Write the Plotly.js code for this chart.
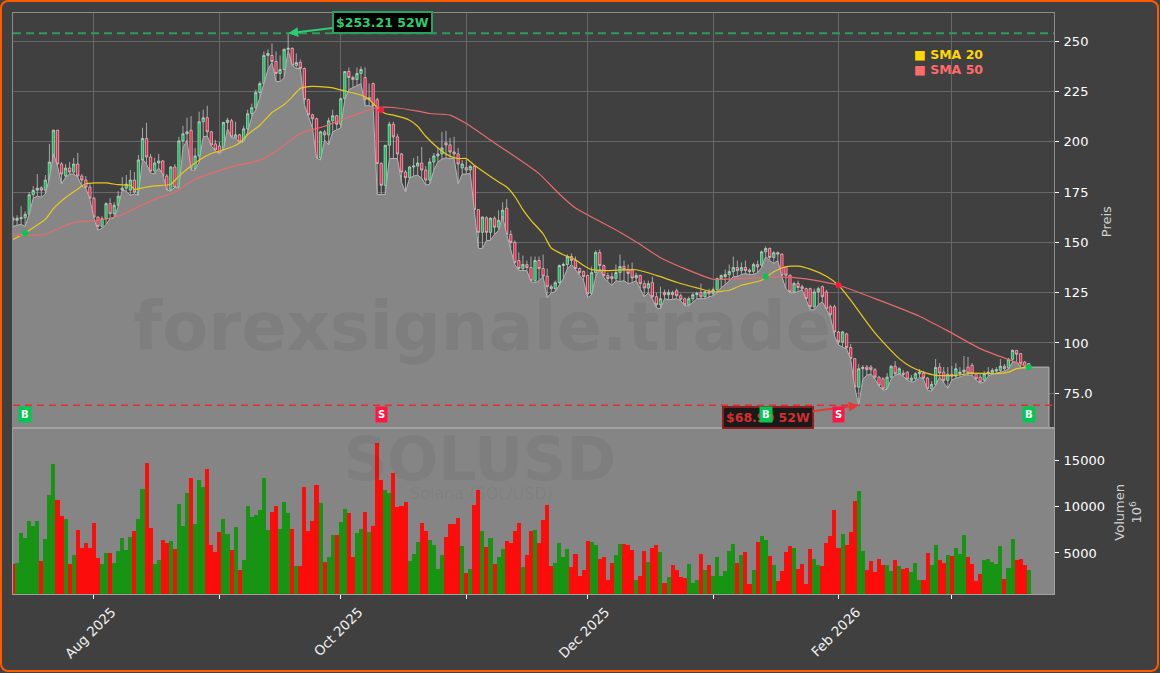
<!DOCTYPE html>
<html>
<head>
<meta charset="utf-8">
<script src="https://cdn.plot.ly/plotly-3.0.1.min.js"></script>
<style>
  html, body { margin: 0; padding: 0; background: #fff; }
  #wrap { position: relative; width: 1160px; height: 673px; overflow: hidden; }
  #frame { position: absolute; left: 0; top: 0; width: 1159px; height: 672px; box-sizing: border-box;
           border: 2.5px solid #ff5a00; border-radius: 8px; pointer-events: none; }
</style>
</head>
<body>
<div id="wrap">
  <div id="chart" style="width:1160px;height:673px"></div>
  <div id="frame"></div>
</div>
<script>
// daily bars, first one is 2025-07-12
var startDay = '2025-07-12';
var barCount = 252;

var opens = [162,161,161.8,162.3,164,173.8,176,177.2,176,181,190,205.8,189,183,187,185,189,183,181,177.5,172,162.6,158,161.8,169.3,164.3,168.5,176,177,176,181,174,191,201.7,192.5,185.5,189.5,190.5,183,176,187.5,177.5,200.5,204,205.8,186.7,193,210,212,205,199,198,194.5,209.6,210.5,202,203.5,200,206.5,214,217,224.5,229,243,243,240,234,236,246,246.5,238,239.5,236.5,221,213.5,211.5,192,205,203.5,210.5,213,208.8,221.5,
  235,232,231,234,232,221,229,221,189.2,178.4,198.3,208.8,202.5,194,185,182.2,187.5,188,189.5,186,181,190,193,194,199.5,198.5,195,194,187,187.2,186,187.8,166.3,155,162.3,155,162,157.6,161,167,154,150,141,137,139,137.5,131,141,137,133.2,128,127,130,138.5,139,143,141,137,135.5,133.5,124.5,135,145,138.5,133.5,133,132,135,138,136.5,136.5,132.3,133.6,129.5,127.3,130,123,119,125,124,125,126,123.5,122,119,122,124,125,123,125.5,124.5,126.5,132,133,134,
  135.5,137.5,136,137.5,136.2,135.6,139,138.7,145.3,147,142.5,144.9,144.2,137.9,133.7,125.4,129.6,128,127,127,118,125.4,128,125.4,118,118,105.5,100.5,104.5,97.7,92.2,78,87.2,88,88,86.7,83,82.2,77.2,83,88.4,84.7,85,85.5,81.4,82.2,84.7,85,82.5,77.2,79.4,88,85.5,81.4,84.4,83.5,84.7,85.5,88,88.9,84.7,83,81.4,84.7,85,86,86.4,88.4,87.5,91.9,96.3,94.7,90.5,88.4];
var highs = [163,163.5,168,165.5,175,178,184,178,183.5,199,206,206,190,189,190,192,194.5,184,183,179,172.5,163,163,170,172,170,175.5,182.5,183.5,186,185,193.5,207,209.5,194,192,194,191,184,188,189,202.5,208,212,212.8,197,215,216,218,205.5,201,200,210,212,211.5,210,204,208,216,219,226,230,245,246,249,245,243,246.5,254,247,244,241,237,221.5,214,212,205.5,206,212,216,213.5,222,235,
  237,233,237,237.5,237,229,229.5,222,190,198.5,210,210,204,194.5,186,188,192,193,197.5,188,192,194.5,197.5,205,205.5,202,202.5,197,191,191,188.5,188,166.5,163,163,162.5,163,166,170,171.5,156,151,145,143.5,141,143,143,143,144,137,129,131,139,140,144,144.5,143,137.5,136,134,138,146,146.5,139,135,135,139,144,141,139,140,135,134,131,131,133,125,128,126.5,126.5,126,127,124.5,122.5,123,125,125.5,129.5,126,127,127.5,132.5,134,136.5,
  139,142.9,141,140,141,137,140,141,146,148,147.5,145.5,145.5,144.5,138,134,130.5,131,129,127.5,127.5,127,128,128.5,126.5,119,119,106,106,105,99.5,92.5,89.5,89,89,89,87.5,83.5,83,85,89,91,88,86.5,86,84,85.5,87,86,83,81,92,90,88,88,88.5,90,88,93.5,93,90,85,85,86,88,87.5,88,92,89.5,92.5,96.8,96.5,95,91,90];
var lows = [158,158.5,159,158,164,172,173,172.5,174,182,194,188,179,182.5,184,184,182.5,178,177,171.5,162,156,157,158.8,162,162,168,176,175.5,173.5,174,173.5,191.5,189,184.5,184,187,184,176,175.5,177.5,177,197,201,186,186,190,202.5,203,198,195.5,194,196,206.6,202,202,199.5,200,205,212.5,216,222,228.5,236,239.5,230,230,232,245.5,238,236.5,236.5,218.5,213,207,192,191,201,198.5,205,206,207,221,
  226,227,228,229,218,218,217.5,173.8,173.8,173.8,191.7,191.7,191.7,180,175,182,183,183.5,182,178.5,179,186,190,191.5,192,191.7,191.7,179.2,184,184,184.3,166,147,147,151,151,154,156,163,154,147,139,136,136,136,130.5,130,131,133,122.5,125,125.5,129,132,137,139,136.5,134,131,122.5,124,133,137,132.5,130.5,128.5,131,130.5,131,129.5,130,131,127,123,125,122,117.5,117,122,121.5,121.7,122,121,118.5,118.5,120.5,122,122,122,123,123.5,125,127.5,129,131,
  133,133,134,134.5,134,134,135,137.5,143,141,139.5,141,133,127,125,125,125.5,126.5,121.5,116.5,116.5,119,120.5,116.5,113,103.5,99,98,97,92,78,68.9,82,84,84.5,82,78.5,76.5,77,82,84,84.5,83.5,81.5,80.5,81,83,82,76.5,76,79,83,80,77.5,81.5,82.5,83,84,84,84,81.5,80,80.5,83.5,84.5,85,85.5,86,87,90.5,90.5,88,87.5,88];
var closes = [161,162,162.3,164,173.7,175.9,177,176,181,190,205.8,189,184,187,185,189,183,181,177.5,172,162.6,158,161.8,169.3,164.3,168.5,173,177,179,181,175,191,201.7,192.5,185.5,189.5,190.5,183,176,187.5,177.5,200.5,204,205,186.7,193,210,212,205,198.5,196,194.5,209.6,210.8,202.5,203.5,200,206.5,214,217,224.5,229,243,244,240,234,236,246,246.5,238,239.5,236.5,221,213.5,211.5,192,205,203.5,210.5,213,208.8,221.5,235,
  232,231,234,236,221,222,218,189.2,178.4,198.3,208.8,202.5,194,185,182.2,187.5,188,189.5,186,181,190,193,194,197,198.5,195,194,189,189,186,187.8,166.3,155,162.6,155,162,157.6,161,166,154,150,140,137,139,137.5,131,141,137,133.2,128,127,130,138.5,139,143,141,137,135,133,124.5,135,145,138.5,133.5,132,132,135,138,136.5,134.5,132.3,133.6,129.5,127.3,129.5,123,119,122,124,125,124,123.5,121.7,119,122,124,124.7,123,125.5,124.5,126.5,132,133.5,134,135.5,
  137.5,136,137.5,136,135.6,139,137.8,145.3,147,142.5,144.9,144.2,133.7,133.7,125.4,129.6,127.6,127,122.1,118,125.4,127,123,117,114,105.5,100.5,105.5,97.7,92.2,78,87.2,87.8,86.7,86.7,83,78.9,77.2,83,88.4,84.7,87.2,84.4,82,82.5,84.7,85.5,82.5,77.2,79.4,87.8,85,81.4,84.4,83.5,87.2,85.5,86.5,85,84.7,82.2,80.5,84.7,85.5,86.4,86.7,88.4,87.2,91.9,96.3,94.4,89.7,88.4,89.7];

var volumes = [3855,3926,7115,6613,8441,7903,8441,4105,6506,11236,14568,10698,8978,8656,3819,4750,7473,5538,6076,5538,8226,4463,3819,4965,4981,3926,5216,6613,5323,6721,7366,8656,11880,14675,7688,3819,4249,6398,6076,6291,5431,10268,7903,11450,13063,8118,12848,12095,14030,5861,5108,7258,8656,7043,5323,7795,3174,4249,10053,8870,9086,9623,13063,7473,9408,10053,7581,10483,9300,7581,3604,3604,12095,7366,8441,12310,10376,4033,4571,6936,6936,8333,9730,9300,4571,7151,7581,9408,7258,7903,16825,12848,11773,11450,13600,9981,
  10053,10483,4141,4894,6184,8226,7366,6398,5861,3281,4786,6721,8118,8118,8763,5754,2851,3281,10161,11773,7366,5646,6613,3819,4571,5431,6291,6076,7366,8226,3496,4786,7366,7473,6076,8548,10161,3604,3926,6076,4571,5431,3496,4894,2529,3174,6291,6184,5861,4356,4571,2099,3926,4786,5968,5968,5861,5323,2099,2529,5216,4033,5538,5861,5108,1777,2421,3711,3174,2421,2314,3819,1777,2099,4894,3174,3711,2529,4571,2529,3066,5216,5968,3926,4786,5108,1669,3174,6184,6828,6398,4678,3711,1991,3066,5108,5754,5538,3281,
  3819,1669,5431,4356,3711,3604,6076,6828,9623,5538,7043,5861,7258,10590,11666,5216,3174,4141,2958,4356,3711,3711,3066,4249,3604,3281,3389,2958,3926,2099,2099,4981,3711,5861,4249,3926,4786,4678,5538,4894,6936,4571,3819,1991,2744,4249,4356,4033,3819,5754,2206,3389,6506,4249,4356,3711,3174];
// g = green volume bar, r = red, ten bars per piece
var volumeSides = ['rggggggrgg','grrgrgrrrr','rrggrggggg','rggrrggrrg','rgggrgggrr','rrggrgrggg','ggggrrgggr','grrrrrgrgg','rggrrggrgr','rrggrrrrgg',
  'grrggggrrr','rgrgrrgrgr','ggrrrrgrrg','rrrrggggrr','rrrggrrrrg','grrrgrrgrr','grgrrrrggg','rgrggggggr','grrgrggrgr','rrrgrrrrgg',
  'rrrrrgrrrg','grrrrrggrg','rrgggrrggr','rgrgggrrrr','gggggrggrr','rg'].join('');

var sma20Idx = [0,3,8,10,13,16,18,23,26,29,30,32,35,39,41,44,46,49,53,56,58,61,64,67,69,71,74,79,82,86,88,90,92,94,98,100,102,105,108,110,112,114,117,120,122,124,126,128,131,133,136,139,141,143,147,154,159,164,169,173,177,180,185,188,191,194,197,201,204,207,210,213,216,219,222,225,228,233,237,243,246,248,251];
var sma20Val = [151.5,154.7,161.5,166.8,172.3,176.6,179.2,179.6,178.7,178.4,176.4,177.1,178.1,178.9,183,188,190.9,194.2,196.7,199.5,203.7,208.3,214.6,218.6,222.4,226.6,227.6,226.9,225.3,223.3,221.1,217.1,214.1,213.3,210.8,207.8,202.8,197,192.9,191.7,191.7,188.4,184.2,180.1,177.6,172.9,166.3,161,154.3,147.2,143.9,141.4,138.5,136.5,136,136.4,133.6,130.2,127.4,125.4,126.2,128.7,131.2,135.4,137.9,138.2,136.7,133.2,128.7,121.3,113,105,98.3,92.2,88,85.5,83.9,83.9,85,84.7,85.5,87.2,88];
var sma50Idx = [0,8,11,16,21,26,30,35,40,45,54,61,66,71,77,82,86,90,94,100,103,108,112,119,126,130,135,139,144,150,155,160,165,173,181,189,196,204,214,224,231,239,247,251];
var sma50Val = [153.5,154,156.8,160.3,161,163,166.8,171.4,175.1,181.4,187.7,190.9,196.7,204.2,207.8,211.6,214.5,217.1,217.1,215.3,214.1,213.3,209.1,199.5,190,184.2,174.1,167.1,161.5,155.1,149,142.4,137.8,131.7,132.1,132.9,131.9,128.7,121.3,113.3,106,97.2,91,88];

var crossIdx = [3,91,186,204,251];
var crossSide = ['B','S','B','S','B'];
var crossVal = [154.5,215.8,133.1,128.7,88];

var allMonths = ['2025-08-01','2025-09-01','2025-10-01','2025-11-01','2025-12-01','2026-01-01','2026-02-01','2026-03-01'];
var labelMonths = ['2025-08-01','2025-10-01','2025-12-01','2026-02-01'];
var labelNames = ['Aug 2025','Oct 2025','Dec 2025','Feb 2026'];
var otherMonths = ['2025-09-01','2025-11-01','2026-01-01','2026-03-01'];
var priceTicks = [75,100,125,150,175,200,225,250];
var priceLabels = ['75.0','100','125','150','175','200','225','250'];
var volumeTicks = [5000,10000,15000];
var highLine = 254, lowLine = 69;
var highText = '$253.21 52W', lowText = '$68.90 52W';
var highIdx = 68, lowIdx = 209;

var green = '#00c853', red = '#ff1744';
var bg = '#404040';

function dayAt(i) {
  var d = new Date(startDay + 'T00:00:00Z');
  d.setUTCDate(d.getUTCDate() + i);
  return d.toISOString().slice(0, 10);
}
var days = [];
for (var i = 0; i < barCount; i++) days.push(dayAt(i));

// grey area along the lows, runs on a bit past the last bar
var areaX = days.concat([dayAt(256), dayAt(256)]);
var areaY = lows.concat([lows[barCount - 1], 0]);

var lowArea = {
  type: 'scatter', mode: 'lines', x: areaX, y: areaY, xaxis: 'x', yaxis: 'y',
  fill: 'tozeroy', fillcolor: '#868686', line: {color: '#b4b4b4', width: 1}, hoverinfo: 'skip'
};
var candles = {
  type: 'candlestick', x: days, open: opens, high: highs, low: lows, close: closes, xaxis: 'x', yaxis: 'y',
  increasing: {line: {color: '#d4d4d4', width: 0.7}, fillcolor: green},
  decreasing: {line: {color: '#d4d4d4', width: 0.7}, fillcolor: red},
  whiskerwidth: 0
};
var sma20 = {
  type: 'scatter', mode: 'lines', name: 'SMA 20', x: sma20Idx.map(dayAt), y: sma20Val, xaxis: 'x', yaxis: 'y',
  line: {color: '#e8c820', width: 1.2, shape: 'spline', smoothing: 0.5}
};
var sma50 = {
  type: 'scatter', mode: 'lines', name: 'SMA 50', x: sma50Idx.map(dayAt), y: sma50Val, xaxis: 'x', yaxis: 'y',
  line: {color: '#e86a6a', width: 1.2, shape: 'spline', smoothing: 0.5}
};
var crossDots = {
  type: 'scatter', mode: 'markers', x: crossIdx.map(dayAt), y: crossVal, xaxis: 'x', yaxis: 'y',
  marker: {size: 6, color: crossSide.map(function (s) { return s == 'B' ? green : red; })}
};
var volumeBars = {
  type: 'bar', x: days, y: volumes, xaxis: 'x2', yaxis: 'y2', width: 86400000,
  marker: {color: volumes.map(function (v, i) { return volumeSides[i] == 'g' ? '#189414' : '#fd0c0c'; }), line: {width: 0}}
};

var annotations = [
  {xref: 'paper', yref: 'paper', x: 0.4505, y: 0.46, xanchor: 'center', yanchor: 'middle', text: 'forexsignale.trade', showarrow: false,
   font: {family: 'DejaVu Sans', size: 67, color: 'rgba(0,0,0,0.055)', weight: 'bold'}},
  {xref: 'paper', yref: 'paper', x: 0.4486, y: 0.232, xanchor: 'center', yanchor: 'middle', text: 'SOLUSD', showarrow: false,
   font: {family: 'DejaVu Sans', size: 60, color: 'rgba(0,0,0,0.05)', weight: 'bold'}},
  {xref: 'paper', yref: 'paper', x: 0.4496, y: 0.1735, xanchor: 'center', yanchor: 'middle', text: 'Solana (SOL/USD)', showarrow: false,
   font: {family: 'DejaVu Sans', size: 16, color: 'rgba(0,0,0,0.05)'}},
  {xref: 'x', yref: 'y', x: dayAt(highIdx), y: highLine, ax: 94, ay: -11, text: highText,
   font: {family: 'DejaVu Sans', size: 12.5, color: '#2ecc71', weight: 'bold'}, bgcolor: '#000', bordercolor: '#27a35f', borderwidth: 2, borderpad: 2,
   arrowcolor: '#2ecc71', arrowwidth: 2, arrowhead: 2, arrowsize: 1},
  {xref: 'x', yref: 'y', x: dayAt(lowIdx), y: lowLine, ax: -91, ay: 12, text: lowText,
   font: {family: 'DejaVu Sans', size: 12.5, color: '#d32f2f', weight: 'bold'}, bgcolor: '#1a1a1a', bordercolor: '#8f2020', borderwidth: 2, borderpad: 2,
   arrowcolor: '#e53935', arrowwidth: 2, arrowhead: 2, arrowsize: 1},
  {xref: 'paper', yref: 'paper', x: 0.8635, y: 0.9294, xanchor: 'left', yanchor: 'middle', text: '■ SMA 20', showarrow: false,
   font: {family: 'DejaVu Sans', size: 12.5, color: '#ffd700', weight: 'bold'}},
  {xref: 'paper', yref: 'paper', x: 0.8635, y: 0.9019, xanchor: 'left', yanchor: 'middle', text: '■ SMA 50', showarrow: false,
   font: {family: 'DejaVu Sans', size: 12.5, color: '#ff6b6b', weight: 'bold'}},
  {xref: 'paper', yref: 'paper', x: 1.05, y: 0.64, xanchor: 'center', yanchor: 'middle', text: 'Preis', textangle: -90, showarrow: false,
   font: {family: 'DejaVu Sans', size: 13, color: '#d0d0d0'}},
  {xref: 'paper', yref: 'paper', x: 1.0711, y: 0.14, xanchor: 'center', yanchor: 'middle', text: 'Volumen<br>10<sup>6</sup>', textangle: -90, showarrow: false,
   font: {family: 'DejaVu Sans', size: 13, color: '#d0d0d0'}}
];
// B / S flags along the bottom of the price panel
for (var k = 0; k < crossIdx.length; k++) {
  annotations.push({
    xref: 'x', yref: 'y', x: dayAt(crossIdx[k]), y: 64.6, text: crossSide[k], showarrow: false,
    font: {family: 'DejaVu Sans', size: 10, color: '#fff', weight: 'bold'},
    bgcolor: crossSide[k] == 'B' ? green : red, borderpad: 2
  });
}

var xRange = ['2025-07-12', '2026-03-26 06:00'];

var layout = {
  width: 1160, height: 673,
  margin: {l: 13, r: 106, t: 13, b: 79},
  paper_bgcolor: bg, plot_bgcolor: bg,
  showlegend: false,
  bargap: 0,
  boxgap: 0.18,
  font: {family: 'DejaVu Sans', color: '#fff', size: 13},
  xaxis: {
    domain: [0, 1], range: xRange, type: 'date', anchor: 'y', tickmode: 'array', tickvals: allMonths,
    showticklabels: false, ticks: '', showgrid: true, gridcolor: '#686868', gridwidth: 1, rangeslider: {visible: false},
    showline: true, linecolor: '#8c8c8c', mirror: true, zeroline: false
  },
  xaxis2: {
    domain: [0, 1], range: xRange, type: 'date', anchor: 'y2', matches: 'x', tickmode: 'array', tickvals: labelMonths, ticktext: labelNames,
    tickangle: -45, ticks: 'outside', ticklen: 4, tickcolor: '#fff', showgrid: false,
    tickfont: {family: 'DejaVu Sans', size: 13.5, color: '#f0f0f0'}, ticklabelshift: 18,
    minor: {tickmode: 'array', tickvals: otherMonths, ticks: 'outside', ticklen: 4, tickcolor: '#fff', showgrid: false},
    showline: true, linecolor: '#a0a0a0', zeroline: false
  },
  yaxis: {
    domain: [0.2857, 1], range: [57.7, 264.1], side: 'right', anchor: 'x', tickmode: 'array', tickvals: priceTicks, ticktext: priceLabels,
    ticks: 'outside', ticklen: 4, tickcolor: '#fff', showgrid: true, gridcolor: '#686868', gridwidth: 1, ticklabelstandoff: 2,
    showline: true, linecolor: '#8c8c8c', mirror: true, zeroline: false, fixedrange: true
  },
  yaxis2: {
    domain: [0, 0.2857], range: [572, 18490], side: 'right', anchor: 'x2', tickmode: 'array', tickvals: volumeTicks, ticktext: volumeTicks.map(String),
    ticks: 'outside', ticklen: 4, tickcolor: '#fff', showgrid: false, ticklabelstandoff: 2,
    showline: true, linecolor: '#a0a0a0', mirror: true, zeroline: false, fixedrange: true
  },
  shapes: [
    // volume panel background
    {type: 'rect', xref: 'x2 domain', yref: 'y2 domain', x0: 0, x1: 1, y0: 0, y1: 1, fillcolor: '#858585', line: {width: 0}, layer: 'below'},
    {type: 'line', xref: 'paper', yref: 'paper', x0: 0, x1: 1, y0: 0.2857, y1: 0.2857, line: {color: '#a2a2a2', width: 2}},
    {type: 'line', xref: 'paper', yref: 'y', x0: 0, x1: 1, y0: highLine, y1: highLine, line: {color: '#2f9a5c', width: 2, dash: '8px,5px'}},
    {type: 'line', xref: 'paper', yref: 'y', x0: 0, x1: 1, y0: lowLine, y1: lowLine, line: {color: '#e03030', width: 1.6, dash: '7px,5px'}}
  ],
  annotations: annotations
};

Plotly.newPlot('chart', [lowArea, candles, sma20, sma50, crossDots, volumeBars], layout, {displayModeBar: false, staticPlot: true});
</script>
</body>
</html>
